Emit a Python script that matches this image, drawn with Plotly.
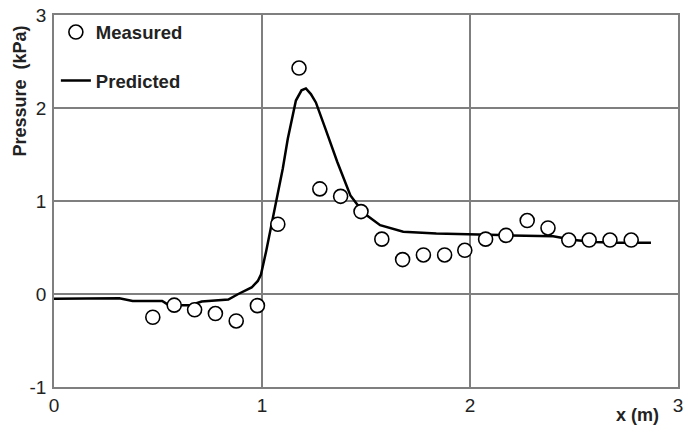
import plotly.graph_objects as go

# Measured data
meas_x = [0.475, 0.578, 0.676, 0.776, 0.876, 0.978, 1.076, 1.178, 1.278, 1.378,
          1.476, 1.576, 1.676, 1.776, 1.878, 1.975, 2.075, 2.173, 2.275, 2.375,
          2.475, 2.573, 2.673, 2.775]
meas_y = [-0.25, -0.12, -0.17, -0.21, -0.29, -0.125, 0.75, 2.43, 1.13, 1.05,
          0.886, 0.59, 0.37, 0.42, 0.42, 0.47, 0.59, 0.63, 0.79, 0.71,
          0.58, 0.58, 0.58, 0.58]

# Predicted curve
pred_x = [0.0, 0.1, 0.2, 0.314, 0.378, 0.473, 0.52, 0.552, 0.616, 0.655, 0.71,
          0.775, 0.838, 0.886, 0.95, 0.98, 0.995, 1.02, 1.043, 1.067, 1.1,
          1.124, 1.163, 1.19, 1.211, 1.235, 1.259, 1.306, 1.362, 1.425, 1.489,
          1.568, 1.679, 1.838, 2.0, 2.1, 2.2, 2.4, 2.5, 2.6, 2.7, 2.87]
pred_y = [-0.05, -0.05, -0.045, -0.046, -0.075, -0.08, -0.075, -0.12, -0.12, -0.12, -0.08,
          -0.07, -0.06, 0.0, 0.07, 0.14, 0.21, 0.46, 0.71, 1.0, 1.35,
          1.67, 2.08, 2.19, 2.21, 2.15, 2.06, 1.77, 1.42, 1.06, 0.87,
          0.74, 0.67, 0.65, 0.64, 0.63, 0.63, 0.62, 0.58, 0.56, 0.55, 0.55]

x_ticks = [0, 1, 2, 3]
y_ticks = [-1, 0, 1, 2, 3]

FONT = "Arial, Liberation Sans, sans-serif"
GRID = "#7f7f7f"

fig = go.Figure()
fig.add_trace(go.Scatter(
    x=pred_x, y=pred_y, mode="lines", name="Predicted",
    line=dict(color="black", width=2.5), legend="legend2", showlegend=True))
fig.add_trace(go.Scatter(
    x=meas_x, y=meas_y, mode="markers", name="Measured",
    marker=dict(symbol="circle", size=14, color="white",
                line=dict(color="black", width=1.6)),
    legend="legend", showlegend=True))

fig.update_layout(
    width=688, height=425,
    showlegend=True,
    margin=dict(l=54, r=5, t=13, b=38),
    paper_bgcolor="white", plot_bgcolor="white",
    font=dict(family=FONT, color="#222"),
    legend=dict(x=0.003, y=1.004, xanchor="left", yanchor="top",
                bgcolor="rgba(0,0,0,0)",
                font=dict(size=18.5, weight="bold", family=FONT, color="#222")),
    legend2=dict(x=0.003, y=0.874, xanchor="left", yanchor="top",
                 bgcolor="rgba(0,0,0,0)",
                 font=dict(size=18.5, weight="bold", family=FONT, color="#222")),
    xaxis=dict(range=[0, 3], tickvals=x_ticks, ticktext=[str(v) for v in x_ticks],
               showgrid=True, gridcolor=GRID, gridwidth=1.5,
               showline=True, linecolor=GRID, linewidth=1.5, mirror=True,
               zeroline=False, ticks="", tickfont=dict(size=19, family=FONT, color="#222")),
    yaxis=dict(range=[-1, 3], tickvals=y_ticks, ticktext=[str(v) for v in y_ticks],
               showgrid=True, gridcolor=GRID, gridwidth=1.5,
               showline=True, linecolor=GRID, linewidth=1.5, mirror=True,
               zeroline=False, ticks="", ticklabelstandoff=2,
               tickfont=dict(size=19, family=FONT, color="#222")),
    annotations=[
        dict(text="Pressure\u00a0\u00a0(kPa)", textangle=-90, x=-0.054, y=0.795,
             xref="paper", yref="paper", xanchor="center", yanchor="middle",
             showarrow=False,
             font=dict(size=18, weight="bold", family=FONT, color="#222")),
        dict(text="x (m)", x=0.935, y=-0.075, xref="paper", yref="paper",
             xanchor="center", yanchor="middle", showarrow=False,
             font=dict(size=18, weight="bold", family=FONT, color="#222")),
    ],
)

fig.write_html("out.html")
